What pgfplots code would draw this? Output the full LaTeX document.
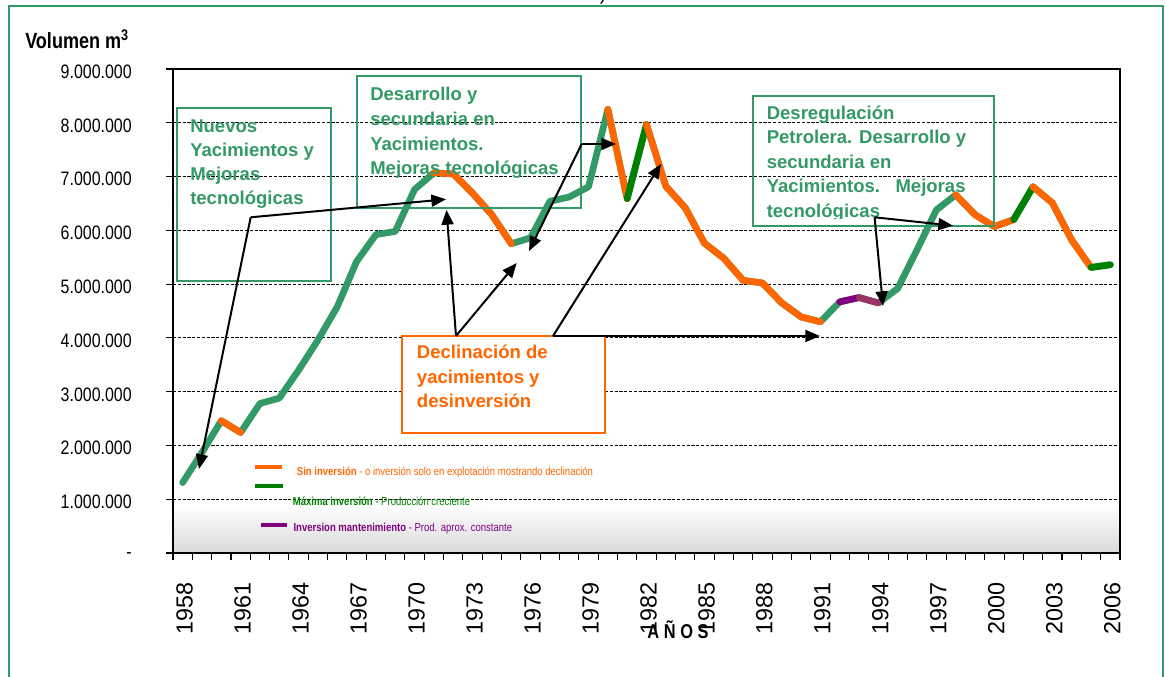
\documentclass[border=0pt]{standalone}
\usepackage{fontspec}
\setmainfont{Liberation Sans}
\newfontfamily\narrowfont{Liberation Sans}[FakeStretch=0.82]
\usepackage{pgfplots}
\pgfplotsset{compat=1.18}
\usepackage{pgfplotstable}
\usetikzlibrary{arrows.meta}

\definecolor{sgreen}{HTML}{339966}
\definecolor{xorange}{HTML}{FF6600}
\definecolor{dgreen}{HTML}{008000}
\definecolor{xpurple}{HTML}{800080}
\definecolor{xmaroon}{HTML}{993366}

\pgfdeclareverticalshading{plotbg}{100bp}{color(0bp)=(black!15); color(25bp)=(black!15); color(30bp)=(white); color(100bp)=(white)}

\pgfplotstableread{
year value
1958 1310000
1959 1870000
1960 2460000
1961 2240000
1962 2780000
1963 2880000
1964 3400000
1965 3960000
1966 4580000
1967 5420000
1968 5920000
1969 5980000
1970 6760000
1971 7070000
1972 7050000
1973 6690000
1974 6290000
1975 5750000
1976 5860000
1977 6540000
1978 6620000
1979 6810000
1980 8250000
1981 6590000
1982 7970000
1983 6820000
1984 6420000
1985 5760000
1986 5480000
1987 5070000
1988 5020000
1989 4650000
1990 4390000
1991 4300000
1992 4670000
1993 4750000
1994 4650000
1995 4920000
1996 5640000
1997 6380000
1998 6660000
1999 6290000
2000 6070000
2001 6200000
2002 6810000
2003 6510000
2004 5820000
2005 5310000
2006 5360000
}\prodtable

\newcommand\tl[3]{\node[anchor=base west, inner sep=0pt, text=#1, font=\bfseries\fontsize{13.9pt}{16pt}\selectfont] at #2 {#3};}

\begin{document}
\begin{tikzpicture}
\useasboundingbox (0,0) rectangle (873.75pt,-507.75pt);
\clip (0,0) rectangle (873.75pt,-507.75pt);
\begin{axis}[
  at={(129.75pt,-414.75pt)}, anchor=south west,
  scale only axis, width=710.25pt, height=363pt,
  xmin=1957.5, xmax=2006.5, ymin=0, ymax=9000000,
  axis line style={black, line width=1.1pt},
  axis background/.style={shading=plotbg},
  tick align=outside, major tick length=5pt,
  tick style={black, line width=0.8pt},
  xtick pos=bottom, ytick pos=left,
  scaled y ticks=false,
  ytick={0,1000000,2000000,3000000,4000000,5000000,6000000,7000000,8000000,9000000},
  yticklabels={-,1.000.000,2.000.000,3.000.000,4.000.000,5.000.000,6.000.000,7.000.000,8.000.000,9.000.000},
  yticklabel style={font=\narrowfont\fontsize{14.6pt}{16pt}\selectfont, anchor=east, inner sep=0pt, xshift=-25.75pt, yshift=-2pt},
  ymajorgrids,
  major grid style={black, line width=0.9pt, dash pattern=on 2.4pt off 1.2pt},
  xtick={1957.5,1958.5,...,2006.5},
  xticklabels={},
  extra x ticks={1958,1961,1964,1967,1970,1973,1976,1979,1982,1985,1988,1991,1994,1997,2000,2003,2006},
  extra x tick labels={1958,1961,1964,1967,1970,1973,1976,1979,1982,1985,1988,1991,1994,1997,2000,2003,2006},
  extra x tick style={major tick length=0pt, tick label style={yshift=-22pt, xshift=1.5pt, rotate=90, anchor=east, inner sep=0pt, font=\fontsize{17.5pt}{20pt}\selectfont}},
  clip=false,
]
\addplot[sgreen, line width=5pt, line join=round, line cap=round] table[x=year,y=value]{\prodtable};
\addplot[xorange, line width=5pt, line join=round, line cap=round, restrict x to domain=1960:1961] table[x=year,y=value]{\prodtable};
\addplot[xorange, line width=5pt, line join=round, line cap=round, restrict x to domain=1971:1975] table[x=year,y=value]{\prodtable};
\addplot[xorange, line width=5pt, line join=round, line cap=round, restrict x to domain=1980:1981] table[x=year,y=value]{\prodtable};
\addplot[dgreen, line width=5pt, line join=round, line cap=round, restrict x to domain=1981:1982] table[x=year,y=value]{\prodtable};
\addplot[xorange, line width=5pt, line join=round, line cap=round, restrict x to domain=1982:1991] table[x=year,y=value]{\prodtable};
\addplot[xpurple, line width=5pt, line join=round, line cap=round, restrict x to domain=1992:1993] table[x=year,y=value]{\prodtable};
\addplot[xmaroon, line width=5pt, line join=round, line cap=round, restrict x to domain=1993:1994] table[x=year,y=value]{\prodtable};
\addplot[xorange, line width=5pt, line join=round, line cap=round, restrict x to domain=1998:2001] table[x=year,y=value]{\prodtable};
\addplot[dgreen, line width=5pt, line join=round, line cap=round, restrict x to domain=2001:2002] table[x=year,y=value]{\prodtable};
\addplot[xorange, line width=5pt, line join=round, line cap=round, restrict x to domain=2002:2005] table[x=year,y=value]{\prodtable};
\addplot[dgreen, line width=5pt, line join=round, line cap=round, restrict x to domain=2005:2006] table[x=year,y=value]{\prodtable};
\end{axis}

\begin{scope}[x=0.75pt, y=-0.75pt]
% outer frame
\draw[sgreen, line width=1.2pt] (9,6) rectangle (1163,700);
% bottom axis
\draw[black, line width=2.2pt] (173,553) -- (1120,553);
% title
\node[anchor=base west, inner sep=0pt, font=\narrowfont\bfseries\fontsize{16.5pt}{18pt}\selectfont] at (25,49) {Volumen m\textsuperscript{3}};
\node[anchor=base, inner sep=0pt, font=\fontsize{14pt}{14pt}\selectfont] at (603,1) {)};
% x title
\node[anchor=base, inner sep=0pt, font=\narrowfont\bfseries\fontsize{15pt}{17pt}\selectfont] at (678,638) {A Ñ O S};

% boxes
\draw[sgreen, line width=1.2pt] (177,108) rectangle (331,281);
\draw[sgreen, line width=1.2pt] (357,76) rectangle (581,208);
\draw[sgreen, line width=1.2pt] (753,96) rectangle (994,226);
\draw[xorange, fill=white, line width=1.2pt] (402,336) rectangle (605,433);

\tl{sgreen}{(190,133)}{Nuevos}
\tl{sgreen}{(190,157)}{Yacimientos y}
\tl{sgreen}{(190,181)}{Mejoras}
\tl{sgreen}{(190,205)}{tecnológicas}

\tl{sgreen}{(370,101)}{Desarrollo y}
\tl{sgreen}{(370,126)}{secundaria en}
\tl{sgreen}{(370,151)}{Yacimientos.}
\tl{sgreen}{(370,175)}{Mejoras tecnológicas}

\tl{sgreen}{(766.5,120)}{Desregulación}
\tl{sgreen}{(766.5,144)}{Petrolera. Desarrollo y}
\tl{sgreen}{(766.5,169)}{secundaria en}
\tl{sgreen}{(766.5,193)}{Yacimientos.\ \ \ Mejoras}
\begin{scope}
\clip (753,96) rectangle (994,219);
\tl{sgreen}{(766.5,218)}{tecnológicas}
\end{scope}

\tl{xorange}{(416.7,359)}{Declinación de}
\tl{xorange}{(416.7,384)}{yacimientos y}
\tl{xorange}{(416.7,408)}{desinversión}

% arrows
\begin{scope}[line width=1.5pt, black, -{Triangle[length=11pt,width=9pt]}]
\draw (250.7,217.3) -- (446,199.3);
\draw (250.7,217.3) -- (199,469);
\draw (456,336) -- (446.5,210);
\draw (456,336) -- (516.7,263);
\draw (553,336) -- (661,164);
\draw (553,336) -- (820,336);
\draw (581.7,144) -- (616,144);
\draw (581.7,144) -- (529,251);
\draw (874.6,217.3) -- (953,225.7);
\draw (874.6,217.3) -- (883,306);
\end{scope}

% legend
\draw[xorange, line width=3pt] (255,467) -- (282,467);
\draw[dgreen, line width=3pt] (255,486) -- (283,486);
\draw[xpurple, line width=3pt] (261,525) -- (287,525);
\node[anchor=base west, inner sep=0pt, text=xorange, font=\narrowfont\fontsize{8.7pt}{10pt}\selectfont] at (296.7,476) {\textbf{Sin inversión} - o inversión solo en explotación mostrando declinación};
\node[anchor=base west, inner sep=0pt, text=dgreen, font=\narrowfont\fontsize{8.7pt}{10pt}\selectfont] at (292.7,505) {\textbf{Máxima inversión} - Producción creciente};
\node[anchor=base west, inner sep=0pt, text=xpurple, font=\narrowfont\fontsize{8.7pt}{10pt}\selectfont] at (293.3,531.7) {\textbf{Inversion mantenimiento} - Prod. aprox. constante};
\end{scope}
\end{tikzpicture}
\end{document}
